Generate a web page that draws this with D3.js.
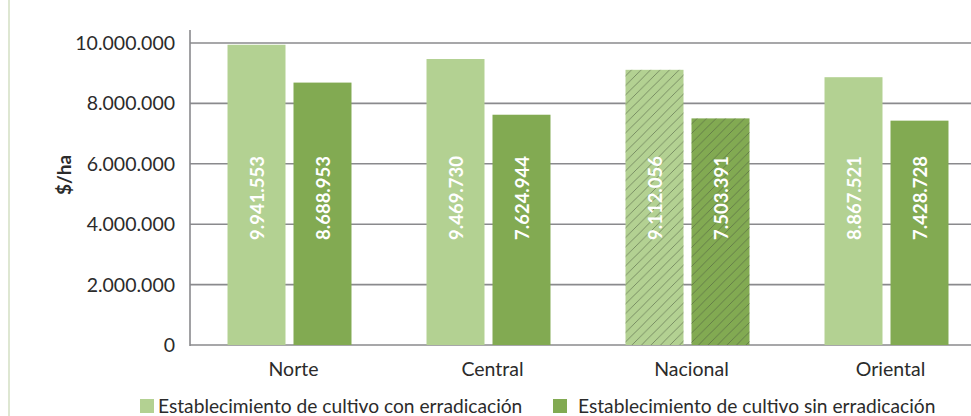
<!DOCTYPE html>
<html><head><meta charset="utf-8">
<script src="https://cdn.jsdelivr.net/npm/d3@7"></script>
<style>body{margin:0;background:#fff}svg{display:block}text{font-family:Lato,"Open Sans",sans-serif}</style>
</head><body><svg id="c" width="971" height="416"></svg>
<script>
const categories = ["Norte", "Central", "Nacional", "Oriental"];
const seriesNames = ["Establecimiento de cultivo con erradicación", "Establecimiento de cultivo sin erradicación"];
const conErradicacion = [9941553, 9469730, 9112056, 8867521];
const sinErradicacion = [8688953, 7624944, 7503391, 7428728];
const yTicks = [0, 2000000, 4000000, 6000000, 8000000, 10000000];
const hatched = ["Nacional"];
const colors = ["#b3d192", "#82aa52"];

const svg = d3.select("#c");
const fmt = v => d3.format(",")(v).replace(/,/g, ".");

// left decorative border
svg.append("line").attr("x1", 9).attr("x2", 9).attr("y1", 0).attr("y2", 416)
  .attr("stroke", "#d3dfc3").attr("stroke-width", 1.5);

const y = d3.scaleLinear().domain([0, 10000000]).range([345, 43]);
const x0 = d3.scaleBand().domain(categories).range([190, 986]).paddingInner(0.377).paddingOuter(0.1885);
const x1 = d3.scaleBand().domain([0, 1]).range([0, x0.bandwidth()]).paddingInner(0.1212);

const defs = svg.append("defs");
const pat = defs.append("pattern").attr("id", "hatch").attr("patternUnits", "userSpaceOnUse")
  .attr("width", 9.5).attr("height", 9.5);
pat.append("path").attr("d", "M-2,2 l4,-4 M0,9.5 l9.5,-9.5 M7.5,11.5 l4,-4")
  .attr("stroke", "#4d5a40").attr("stroke-opacity", 0.7).attr("stroke-width", 0.8);

// gridlines
svg.append("g").selectAll("line").data(yTicks).join("line")
  .attr("x1", 190).attr("x2", 971).attr("y1", d => y(d)).attr("y2", d => y(d))
  .attr("stroke", "#8a8a8d").attr("stroke-width", 1.6);

// y axis line
svg.append("line").attr("x1", 190).attr("x2", 190).attr("y1", 30).attr("y2", 346)
  .attr("stroke", "#8a8a8d").attr("stroke-width", 1.6);

// tick labels
svg.append("g").selectAll("text").data(yTicks).join("text")
  .attr("x", 175).attr("y", d => y(d)).attr("dy", "0.36em").attr("text-anchor", "end")
  .attr("font-size", 19.5).attr("fill", "#2b2b2b").text(d => fmt(d));

// y title
svg.append("text").attr("transform", "translate(71,175) rotate(-90)")
  .attr("text-anchor", "middle").attr("font-weight", "bold").attr("font-size", 19)
  .attr("fill", "#2b2b2b").text("$/ha");

const data = categories.map((c, i) => ({cat: c, vals: [conErradicacion[i], sinErradicacion[i]]}));
const groups = svg.append("g").selectAll("g").data(data).join("g")
  .attr("transform", d => `translate(${x0(d.cat)},0)`);

groups.each(function(d) {
  const g = d3.select(this);
  d.vals.forEach((v, s) => {
    g.append("rect").attr("x", x1(s)).attr("width", x1.bandwidth())
      .attr("y", y(v)).attr("height", y(0) - y(v)).attr("fill", colors[s]);
    if (hatched.includes(d.cat)) {
      g.append("rect").attr("x", x1(s)).attr("width", x1.bandwidth())
        .attr("y", y(v)).attr("height", y(0) - y(v)).attr("fill", "url(#hatch)");
    }
    g.append("text")
      .attr("transform", `translate(${x1(s) + x1.bandwidth() / 2 + 1},198) rotate(-90)`)
      .attr("text-anchor", "middle").attr("dy", "0.36em")
      .attr("font-weight", "bold").attr("font-size", 18.5).attr("fill", "#fff")
      .text(fmt(v));
  });
});

// category labels
svg.append("g").selectAll("text").data(categories).join("text")
  .attr("x", d => x0(d) + x0.bandwidth() / 2 + 4).attr("y", 369).attr("dy", "0.36em")
  .attr("text-anchor", "middle").attr("font-size", 19.5).attr("fill", "#2b2b2b").text(d => d);

// legend
const legX = [140, 553];
const leg = svg.append("g").selectAll("g").data(seriesNames).join("g")
  .attr("transform", (d, i) => `translate(${legX[i]},399)`);
leg.append("rect").attr("width", 14).attr("height", 14).attr("fill", (d, i) => colors[i]);
leg.append("text").attr("x", (d, i) => i === 0 ? 18 : 25).attr("y", 13.5)
  .attr("font-size", 19.2).attr("fill", "#2b2b2b").text(d => d);
</script></body></html>
